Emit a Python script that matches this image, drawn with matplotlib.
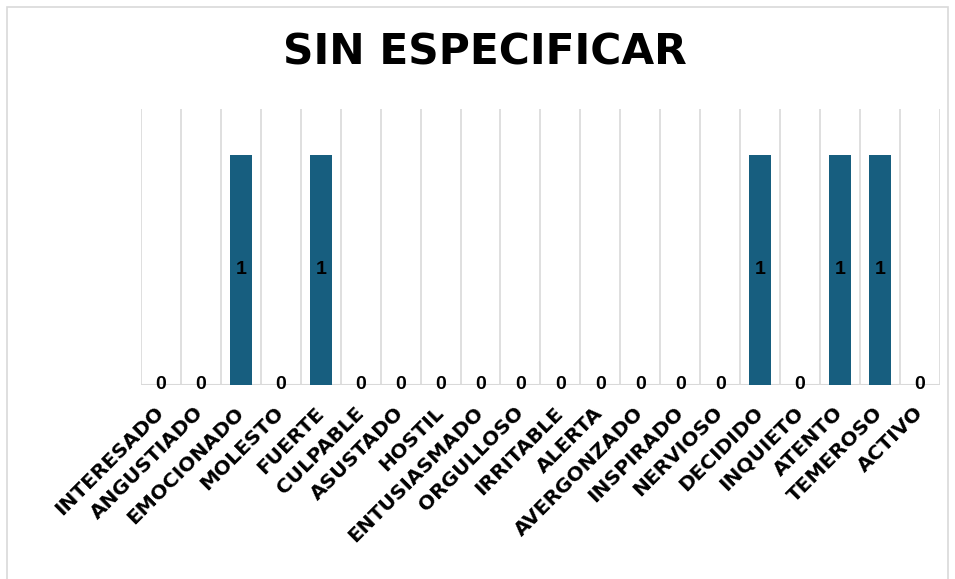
import matplotlib.pyplot as plt
from matplotlib.patches import Rectangle

categorias = ['INTERESADO', 'ANGUSTIADO', 'EMOCIONADO', 'MOLESTO', 'FUERTE',
              'CULPABLE', 'ASUSTADO', 'HOSTIL', 'ENTUSIASMADO', 'ORGULLOSO',
              'IRRITABLE', 'ALERTA', 'AVERGONZADO', 'INSPIRADO', 'NERVIOSO',
              'DECIDIDO', 'INQUIETO', 'ATENTO', 'TEMEROSO', 'ACTIVO']
valores = [0, 0, 1, 0, 1, 0, 0, 0, 0, 0, 0, 0, 0, 0, 0, 1, 0, 1, 1, 0]

plt.rcParams['font.family'] = ['Liberation Sans', 'DejaVu Sans']

fig = plt.figure(figsize=(9.55, 5.79), dpi=100)
ax = fig.add_axes([0.1476, 0.3351, 0.8366, 0.4767])

x = range(len(categorias))
ax.bar(x, valores, width=0.55, color='#175e7f', zorder=3)

# etiquetas de datos
for i, v in zip(x, valores):
    ax.text(i, v / 2, str(v), ha='center', va='center',
            fontsize=14, fontweight='bold', color='black', zorder=4)

ax.set_xlim(-0.5, len(categorias) - 0.5)
ax.set_ylim(0, 1.2)

# lineas verticales entre categorias
for b in range(len(categorias) + 1):
    ax.axvline(b - 0.5, color='#d9d9d9', lw=1.2, zorder=1)
ax.axhline(0, color='#d9d9d9', lw=1.5, zorder=2)

for s in ax.spines.values():
    s.set_visible(False)
ax.set_yticks([])
ax.set_xticks(list(x))
ax.set_xticklabels(categorias, rotation=45, ha='right', va='center',
                   rotation_mode='anchor', fontsize=14.5, fontweight='bold',
                   family='DejaVu Sans')
ax.tick_params(axis='x', length=0, pad=18)
for lbl in ax.get_xticklabels():
    lbl.set_x(lbl.get_position()[0] - 0.1)

fig.text(0.508, 0.91, 'SIN ESPECIFICAR', ha='center', va='center',
         fontsize=30.5, fontweight='bold', family='DejaVu Sans')

fig.patches.append(Rectangle((0.0073, -0.05), 0.9854, 1.038, transform=fig.transFigure,
                             fill=False, edgecolor='#d9d9d9', lw=1.2))

fig.savefig('out.png', dpi=100)
